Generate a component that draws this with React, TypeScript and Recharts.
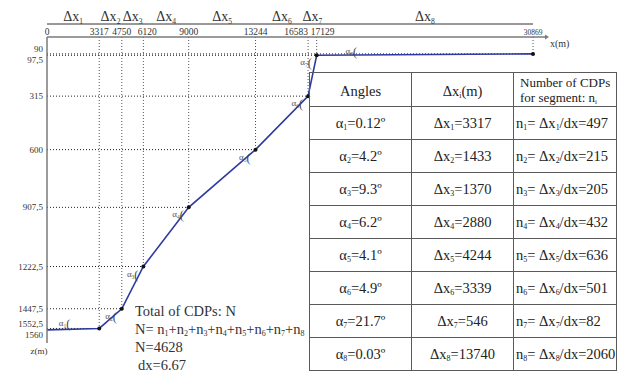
import React from "react";
import { LineChart, Line, XAxis, YAxis, ReferenceLine } from "recharts";

// Horizontal breakpoints along the profile (m) and the depth at each one
const xBreaks = [0, 3317, 4750, 6120, 9000, 13244, 16583, 17129, 30869];
const zDepths = [1560, 1552.5, 1447.5, 1222.5, 907.5, 600, 315, 97.5, 90];
const zTicks = [90, 97.5, 315, 600, 907.5, 1222.5, 1447.5, 1552.5, 1560];

// Per-segment summary shown in the table
const angles = ["0.12", "4.2", "9.3", "6.2", "4.1", "4.9", "21.7", "0.03"];
const deltaX = [3317, 1433, 1370, 2880, 4244, 3339, 546, 13740];
const cdpCounts = [497, 215, 205, 432, 636, 501, 82, 2060];
const dxStep = "6.67";

const profile = xBreaks.map((x, i) => ({ x, z: zDepths[i] }));
const segmentMids = xBreaks.slice(1).map((x, i) => (xBreaks[i] + x) / 2);
const totalCdps = cdpCounts.reduce((a, b) => a + b, 0);

const SERIF = "'Liberation Serif', 'DejaVu Serif', serif";
const AXIS_GREY = "#7a7a7a";
const LINE_BLUE = "#2f3aa0";

// axis ids: the lower id is stacked next to the plot
const MAIN_X = 0;
const SPAN_X = 1;

// small label shifts so neighbouring tick labels don't collide
const X_TICK_NUDGE: Record<number, number> = { 6120: 4, 16583: -12, 17129: 6 };
const Y_TICK_NUDGE: Record<number, number> = { 90: -5, 97.5: 5, 1552.5: -4, 1560: 5 };
// where each alpha tag sits relative to its vertex
const TAG_OFFSET: Record<number, [number, number]> = { 1: [-33, -2], 8: [-180, 0] };

const fmtDepth = (v: number) => String(v).replace(".", ",");

function XTick(props: any) {
  const { x, y, payload } = props;
  const v = payload.value as number;
  const last = v === xBreaks[xBreaks.length - 1];
  return (
    <text
      x={x + (X_TICK_NUDGE[v] ?? 0)}
      y={y}
      textAnchor="middle"
      fontFamily={SERIF}
      fontSize={last ? 7.5 : 9.5}
      fill="#333"
    >
      {v}
    </text>
  );
}

function DeltaTick(props: any) {
  const { x, y, index } = props;
  return (
    <text x={x} y={y} textAnchor="middle" fontFamily={SERIF} fontSize={14} fill="#333">
      Δx
      <tspan fontSize={7.5} dy={3}>
        {index + 1}
      </tspan>
    </text>
  );
}

function YTick(props: any) {
  const { x, y, payload } = props;
  const v = payload.value as number;
  return (
    <text
      x={x}
      y={y + (Y_TICK_NUDGE[v] ?? 0)}
      dy={3}
      textAnchor="end"
      fontFamily={SERIF}
      fontSize={9}
      fill="#333"
    >
      {fmtDepth(v)}
    </text>
  );
}

function XUnitLabel(props: any) {
  const { x, y, width, height } = props.viewBox;
  const ax = x + width;
  const ay = y + height;
  return (
    <g>
      <line x1={ax} y1={ay} x2={ax + 12} y2={ay} stroke={AXIS_GREY} strokeWidth={1.5} />
      <path d={`M${ax + 12},${ay - 2.5} L${ax + 16},${ay} L${ax + 12},${ay + 2.5} Z`} fill={AXIS_GREY} />
      <text x={ax + 17} y={ay + 10} fontFamily={SERIF} fontSize={10} fill="#333">
        x(m)
      </text>
    </g>
  );
}

function ZUnitLabel(props: any) {
  const { x, y, width, height } = props.viewBox;
  return (
    <text x={x + width - 8} y={y + height + 11} textAnchor="middle" fontFamily={SERIF} fontSize={9} fill="#333">
      z(m)
    </text>
  );
}

function renderVertex(props: any) {
  const { cx, cy, index } = props;
  if (index === 0) return <g key="v0" />;
  const [dx, dy] = TAG_OFFSET[index] ?? [-9, 10];
  return (
    <g key={`v${index}`}>
      <circle cx={cx} cy={cy} r={2} fill="#111" />
      <text x={cx + dx} y={cy + dy} textAnchor="end" fontFamily={SERIF} fontSize={9} fill="#555">
        α
        <tspan fontSize={5.5} dy={2}>
          {index}
        </tspan>
      </text>
      <text x={cx + dx} y={cy + dy + 2} fontFamily={SERIF} fontSize={12} fill="#444">
        (
      </text>
    </g>
  );
}

const sub = (s: string | number) => (
  <sub style={{ fontSize: "0.55em", verticalAlign: "-0.3em", lineHeight: 0 }}>{s}</sub>
);

const cellBase: React.CSSProperties = {
  borderRight: "1.5px solid #5a5a5a",
  borderBottom: "1.5px solid #5a5a5a",
  display: "flex",
  alignItems: "center",
  whiteSpace: "nowrap",
};

function SegmentTable() {
  const center: React.CSSProperties = { ...cellBase, justifyContent: "center" };
  const left: React.CSSProperties = { ...cellBase, justifyContent: "flex-start", paddingLeft: 2 };
  return (
    <div
      style={{
        position: "absolute",
        left: 309,
        top: 72,
        display: "grid",
        gridTemplateColumns: "102px 102px 103px",
        gridTemplateRows: "34px repeat(8, 33px)",
        borderTop: "1.5px solid #5a5a5a",
        borderLeft: "1.5px solid #5a5a5a",
        fontFamily: SERIF,
        fontSize: 14.5,
        color: "#222",
      }}
    >
      <div style={{ ...center, paddingTop: 4 }}>
        <span>Angles</span>
      </div>
      <div style={{ ...center, paddingTop: 4 }}>
        <span>
          Δx{sub("i")}(m)
        </span>
      </div>
      <div
        style={{
          ...cellBase,
          flexDirection: "column",
          alignItems: "flex-start",
          justifyContent: "center",
          paddingLeft: 6,
          fontSize: 13,
          lineHeight: "15px",
        }}
      >
        <span>Number of CDPs</span>
        <span>for segment: n{sub("i")}</span>
      </div>
      {angles.map((a, i) => (
        <React.Fragment key={i}>
          <div style={center}>
            <span>
              α{sub(i + 1)}={a}º
            </span>
          </div>
          <div style={center}>
            <span>
              Δx{sub(i + 1)}={deltaX[i]}
            </span>
          </div>
          <div style={left}>
            <span>
              n{sub(i + 1)}= Δx{sub(i + 1)}/dx={cdpCounts[i]}
            </span>
          </div>
        </React.Fragment>
      ))}
    </div>
  );
}

function CdpSummary() {
  return (
    <div
      style={{
        position: "absolute",
        left: 135,
        top: 302,
        fontFamily: SERIF,
        fontSize: 14.5,
        lineHeight: "18px",
        color: "#333",
        whiteSpace: "nowrap",
      }}
    >
      <div>Total of CDPs: N</div>
      <div>
        N= {cdpCounts.map((_, i) => (
          <React.Fragment key={i}>
            {i > 0 ? "+" : ""}n{sub(i + 1)}
          </React.Fragment>
        ))}
      </div>
      <div>N={totalCdps}</div>
      <div style={{ marginLeft: 3 }}>dx={dxStep}</div>
    </div>
  );
}

export default function App() {
  const xDomain = [xBreaks[0], xBreaks[xBreaks.length - 1]];
  return (
    <div style={{ position: "absolute", left: 0, top: 0, width: 621, height: 375, background: "#fff" }}>
      <LineChart width={621} height={375} data={profile} margin={{ top: 4, right: 88, bottom: 32, left: 0 }}>
        <XAxis
          xAxisId={MAIN_X}
          dataKey="x"
          type="number"
          orientation="top"
          domain={xDomain}
          ticks={xBreaks}
          interval={0}
          height={13}
          tickSize={0}
          tickMargin={2}
          tickLine={false}
          axisLine={{ stroke: AXIS_GREY, strokeWidth: 1.5 }}
          tick={<XTick />}
          label={{ content: XUnitLabel }}
        />
        {/* segment-width labels sit on the outer top axis */}
        <XAxis
          xAxisId={SPAN_X}
          dataKey="x"
          type="number"
          orientation="top"
          domain={xDomain}
          ticks={segmentMids}
          interval={0}
          height={20}
          tickSize={0}
          tickMargin={3}
          tickLine={false}
          axisLine={{ stroke: "#333", strokeWidth: 1 }}
          tick={<DeltaTick />}
        />
        <YAxis
          type="number"
          reversed
          domain={[0, 1630]}
          ticks={zTicks}
          interval={0}
          width={47}
          tickSize={0}
          tickMargin={4}
          tickLine={false}
          axisLine={{ stroke: AXIS_GREY, strokeWidth: 1.5 }}
          tick={<YTick />}
          label={{ content: ZUnitLabel }}
        />
        {profile.slice(1).map((p) => (
          <ReferenceLine
            key={`h${p.x}`}
            xAxisId={MAIN_X}
            segment={[
              { x: xBreaks[0], y: p.z },
              { x: p.x, y: p.z },
            ]}
            stroke="#222"
            strokeDasharray="1 2"
          />
        ))}
        {profile.slice(1).map((p) => (
          <ReferenceLine
            key={`v${p.x}`}
            xAxisId={MAIN_X}
            segment={[
              { x: p.x, y: 0 },
              { x: p.x, y: p.z },
            ]}
            stroke="#555"
            strokeDasharray="1 2"
          />
        ))}
        <Line
          xAxisId={MAIN_X}
          type="linear"
          dataKey="z"
          stroke={LINE_BLUE}
          strokeWidth={1.6}
          dot={renderVertex}
          activeDot={false}
          isAnimationActive={false}
        />
      </LineChart>
      <CdpSummary />
      <SegmentTable />
    </div>
  );
}
